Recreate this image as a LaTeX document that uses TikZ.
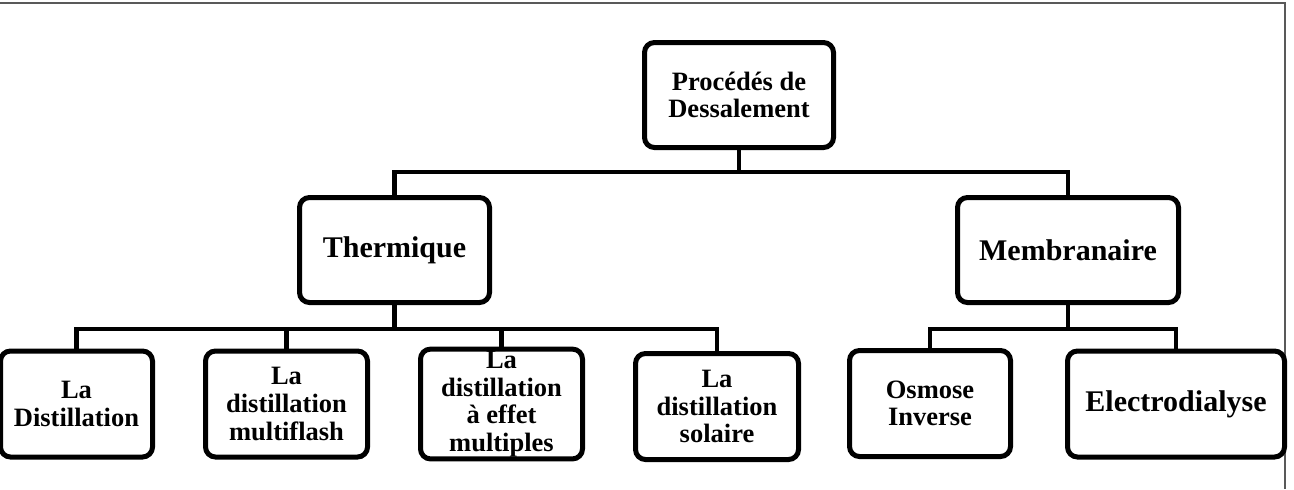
\documentclass[tikz,border=0pt]{standalone}
\usepackage{fontspec}
\setmainfont{Liberation Serif}
\usepackage{tikz}
\usetikzlibrary{positioning}

\begin{document}
\begin{tikzpicture}[x=0.5pt, y=-0.5pt,
  box/.style={rectangle, draw, line width=2.5pt, rounded corners=5pt,
    minimum height=53pt, align=center, inner sep=1pt,
    font=\bfseries\fontsize{13.25}{13.8}\selectfont},
  bigbox/.style={box, font=\bfseries\fontsize{15}{16}\selectfont},
  link/.style={line width=2.2pt},
  frame/.style={line width=1pt, draw=black!65},
]
  \useasboundingbox (0,0) rectangle (1294,489);
  \draw[frame] (0,3) -- (1285,3) -- (1285,489);

  % top level
  \node[box, minimum width=94.5pt, minimum height=52.5pt] (root) at (739,95) {Procédés de\\Dessalement};
  \node[bigbox, minimum width=95pt, minimum height=52.5pt] (therm) at (394.5,250) {Thermique};
  \node[bigbox, minimum width=110.5pt, minimum height=52.5pt] (membr) at (1068,250) {Membranaire};

  % leaves
  \node[box, minimum width=76pt] (dist) at (76.5,404) {La\\Distillation};
  \node[box, minimum width=81pt] (flash) at (286.5,404) {La\\distillation\\multiflash};
  \node[box, minimum width=81pt] (effet) at (501.5,404) {La\\distillation\\à effet\\multiples};
  \node[box, minimum width=81.5pt] (solaire) at (717,406.5) {La\\distillation\\solaire};
  \node[box, minimum width=80.5pt] (osmose) at (930,403.5) {Osmose\\Inverse};
  \node[bigbox, minimum width=108.5pt] (electro) at (1176,404) {Electrodialyse};

  % connectors
  \foreach \c in {therm,membr}
    \draw[link] (root.south) -- ++(0,22) -| (\c.north);
  \foreach \c in {dist,flash,effet,solaire}
    \draw[link] (therm.south) -- ++(0,24) -| (\c.north);
  \foreach \c in {osmose,electro}
    \draw[link] (membr.south) -- ++(0,24) -| (\c.north);
\end{tikzpicture}
\end{document}
